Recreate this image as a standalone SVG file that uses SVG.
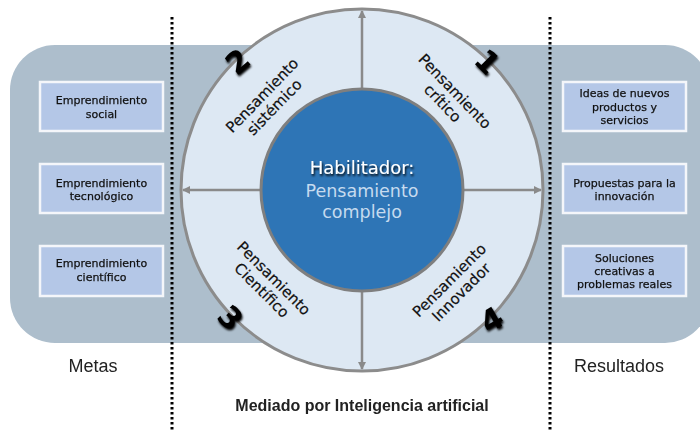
<svg xmlns="http://www.w3.org/2000/svg" width="700" height="432" viewBox="0 0 700 432">
<style>
.box{fill:#b4c7e7;stroke:#f4f6fa;stroke-width:2.5}
.bt{font-family:"DejaVu Sans",sans-serif;font-size:11px;fill:#111;stroke:#111;stroke-width:0.25;text-anchor:middle}
.rl{font-family:"DejaVu Sans",sans-serif;font-size:15px;fill:#111;stroke:#111;stroke-width:0.2;text-anchor:middle}
.num{font-family:"DejaVu Sans",sans-serif;font-size:30px;font-weight:bold;fill:#000;text-anchor:middle}
.lab{font-family:"Liberation Sans",sans-serif;font-size:18px;fill:#222;text-anchor:middle}
.dot{stroke:#000;stroke-width:3;stroke-dasharray:2.5 2.5}
.arr{stroke:#8a8a8a;stroke-width:2.5;fill:none;marker-end:url(#ah)}
</style>
<defs>
<marker id="ah" markerWidth="8" markerHeight="8" refX="7" refY="4" orient="auto" markerUnits="userSpaceOnUse">
<path d="M0,0 L8,4 L0,8 Z" fill="#8a8a8a"/>
</marker>
<filter id="sh" x="-50%" y="-50%" width="200%" height="200%">
<feGaussianBlur in="SourceAlpha" stdDeviation="1.2"/>
<feOffset dx="1" dy="1.5" result="b"/>
<feMerge><feMergeNode in="b"/><feMergeNode in="SourceGraphic"/></feMerge>
</filter>
</defs>
<rect x="0" y="0" width="700" height="432" fill="#fff"/>
<rect id="band" x="10" y="45" width="700" height="298" rx="45" fill="#adbecc"/>

<g id="ring">
<circle cx="362" cy="190" r="181" fill="#dde8f3" stroke="#8c8c8c" stroke-width="3"/>
</g>
<g id="connectors">
<line class="arr" x1="362" y1="89" x2="362" y2="11"/>
<line class="arr" x1="261" y1="190" x2="183" y2="190"/>
<line class="arr" x1="463" y1="190" x2="541" y2="190"/>
<line class="arr" x1="362" y1="291" x2="362" y2="369"/>
</g>
<g id="center">
<circle cx="362" cy="190" r="101" fill="#2e75b6" stroke="#7f7f7f" stroke-width="3"/>
<text x="362" y="174" font-family="DejaVu Sans,sans-serif" font-size="18" fill="#fff" text-anchor="middle" filter="url(#sh)">Habilitador:</text>
<text x="362" y="197" font-family="DejaVu Sans,sans-serif" font-size="17.5" fill="#c6dbef" text-anchor="middle">Pensamiento</text>
<text x="362" y="218" font-family="DejaVu Sans,sans-serif" font-size="17.5" fill="#c6dbef" text-anchor="middle">complejo</text>
</g>

<g id="critico" transform="translate(449,97) rotate(46)">
<text class="rl" x="0" y="-3">Pensamiento</text>
<text class="rl" x="0" y="14">crítico</text>
</g>
<g id="sistemico" transform="translate(268,101) rotate(-46)">
<text class="rl" x="0" y="-3">Pensamiento</text>
<text class="rl" x="0" y="14">sistémico</text>
</g>
<g id="cientifico" transform="translate(268,284) rotate(45)">
<text class="rl" x="0" y="-3">Pensamiento</text>
<text class="rl" x="0" y="14">Científico</text>
</g>
<g id="innovador" transform="translate(455,286) rotate(-45)">
<text class="rl" x="0" y="-3">Pensamiento</text>
<text class="rl" x="0" y="14">Innovador</text>
</g>

<g id="numbers" filter="url(#sh)">
<text class="num" transform="translate(487,62) rotate(45)" x="0" y="10">1</text>
<text class="num" transform="translate(238,62) rotate(-40)" x="0" y="10">2</text>
<text class="num" transform="translate(230,318) rotate(45)" x="0" y="10">3</text>
<text class="num" transform="translate(492,320) rotate(-30)" x="0" y="10">4</text>
</g>

<g id="dividers">
<line class="dot" x1="172" y1="17" x2="172" y2="432"/>
<line class="dot" x1="550" y1="17" x2="550" y2="432"/>
</g>

<g id="meta1"><rect class="box" x="40" y="82" width="123" height="49"/>
<text class="bt" x="101.5" y="104">Emprendimiento</text><text class="bt" x="101.5" y="118">social</text></g>
<g id="meta2"><rect class="box" x="40" y="164" width="123" height="49"/>
<text class="bt" x="101.5" y="187">Emprendimiento</text><text class="bt" x="101.5" y="200">tecnológico</text></g>
<g id="meta3"><rect class="box" x="40" y="246" width="123" height="50"/>
<text class="bt" x="101.5" y="267">Emprendimiento</text><text class="bt" x="101.5" y="281">científico</text></g>

<g id="res1"><rect class="box" x="563" y="82" width="123" height="49"/>
<text class="bt" x="624.5" y="97">Ideas de nuevos</text><text class="bt" x="624.5" y="110.5">productos y</text><text class="bt" x="624.5" y="124">servicios</text></g>
<g id="res2"><rect class="box" x="563" y="164" width="123" height="49"/>
<text class="bt" x="624.5" y="187">Propuestas para la</text><text class="bt" x="624.5" y="200">innovación</text></g>
<g id="res3"><rect class="box" x="563" y="246" width="123" height="50"/>
<text class="bt" x="624.5" y="262">Soluciones</text><text class="bt" x="624.5" y="275">creativas  a</text><text class="bt" x="624.5" y="288">problemas reales</text></g>

<text class="lab" x="93" y="372">Metas</text>
<text class="lab" x="619" y="372">Resultados</text>
<text x="362" y="411" font-family="Liberation Sans,sans-serif" font-size="16" font-weight="bold" fill="#222" text-anchor="middle">Mediado por Inteligencia artificial</text>
</svg>
